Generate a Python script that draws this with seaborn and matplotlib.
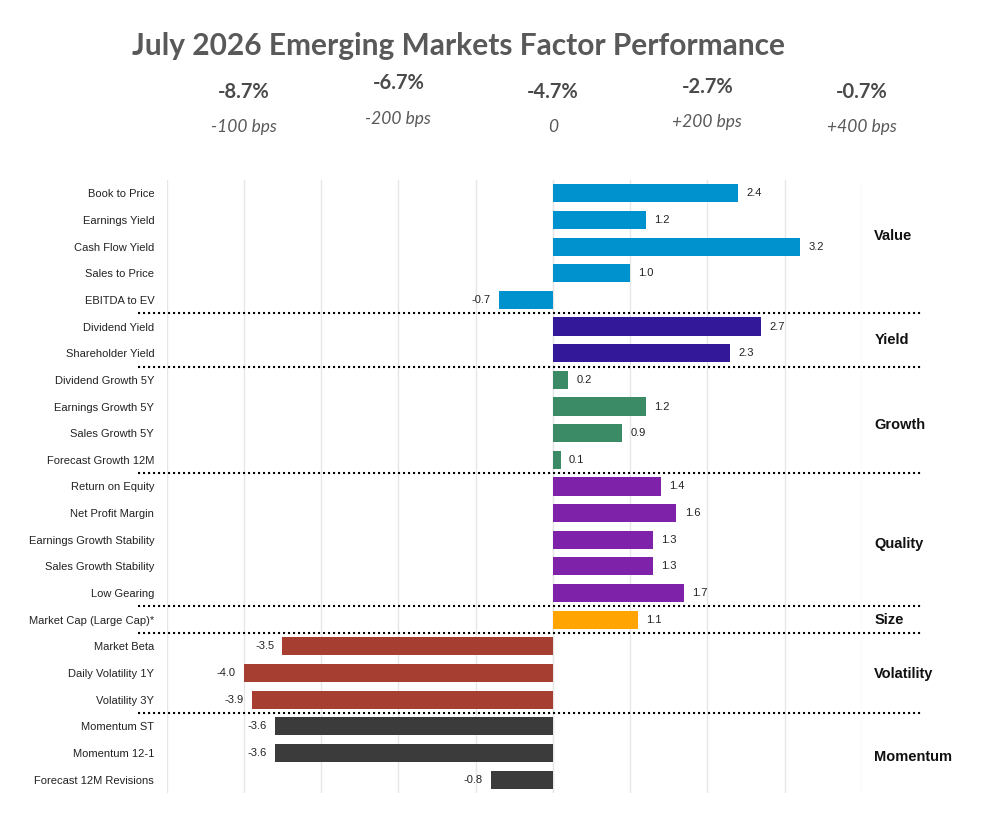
import pandas as pd
import numpy as np
import matplotlib.pyplot as plt
import matplotlib.transforms as mtransforms
import seaborn as sns

# -----------------------------
# Data
# -----------------------------
factors = [
    "Book to Price", "Earnings Yield", "Cash Flow Yield", "Sales to Price", "EBITDA to EV",
    "Dividend Yield", "Shareholder Yield",
    "Dividend Growth 5Y", "Earnings Growth 5Y", "Sales Growth 5Y", "Forecast Growth 12M",
    "Return on Equity", "Net Profit Margin", "Earnings Growth Stability",
    "Sales Growth Stability", "Low Gearing",
    "Market Cap (Large Cap)*",
    "Market Beta", "Daily Volatility 1Y", "Volatility 3Y",
    "Momentum ST", "Momentum 12-1", "Forecast 12M Revisions",
]
values = [
    2.4, 1.2, 3.2, 1.0, -0.7,
    2.7, 2.3,
    0.2, 1.2, 0.9, 0.1,
    1.4, 1.6, 1.3, 1.3, 1.7,
    1.1,
    -3.5, -4.0, -3.9,
    -3.6, -3.6, -0.8,
]
groups = ["Value", "Yield", "Growth", "Quality", "Size", "Volatility", "Momentum"]
group_sizes = [5, 2, 4, 5, 1, 3, 3]
group_colors = ["#0092CF", "#33199A", "#3B8C66", "#7F22AA", "#FFA400", "#A63E31", "#3B3B3B"]

title = "July 2026 Emerging Markets Factor Performance"
header_x = [-4, -2, 0, 2, 4]
header_pct = ["-8.7%", "-6.7%", "-4.7%", "-2.7%", "-0.7%"]
header_bps = ["-100 bps", "-200 bps", "0", "+200 bps", "+400 bps"]

df = pd.DataFrame({
    "factor": factors,
    "value": values,
    "group": np.repeat(groups, group_sizes),
})

# -----------------------------
# Plot
# -----------------------------
sns.set_style("white")
plt.rcParams["font.family"] = ["Liberation Sans", "DejaVu Sans"]

fig = plt.figure(figsize=(9.86, 8.3), dpi=100)
ax = fig.add_axes([0.169, 0.0446, 0.705, 0.7386])

sns.barplot(
    data=df, x="value", y="factor", hue="group", orient="h",
    palette=dict(zip(groups, group_colors)), dodge=False, width=0.68,
    legend=False, ax=ax, saturation=1, edgecolor="none",
)

for cont in ax.containers:
    ax.bar_label(cont, fmt="%.1f", padding=6, fontsize=8, color="#222222")

ax.set_xlim(-5, 4)
ax.set_ylim(len(factors) - 0.5, -0.5)
ax.set_xticks(range(-5, 5))
ax.set_xticklabels([])
ax.grid(axis="x", color="#E6E6E6", linewidth=1)
ax.set_axisbelow(True)
ax.axvline(0, color="#CCCCCC", linewidth=0.8, zorder=0)
ax.tick_params(axis="both", length=0)
ax.tick_params(axis="y", pad=9, labelsize=8, labelcolor="#222222")
ax.set_xlabel("")
ax.set_ylabel("")
sns.despine(ax=ax, left=True, bottom=True)

# group separators and labels
trans = mtransforms.blended_transform_factory(ax.transAxes, ax.transData)
bounds = np.cumsum(group_sizes)
starts = bounds - np.array(group_sizes)
for b in bounds[:-1]:
    ax.plot([-0.041, 1.087], [b - 0.5, b - 0.5], transform=trans, color="black",
            linestyle=(0, (1, 1.4)), linewidth=1.5, clip_on=False)
label_shift = [-0.4, 0, 0.2, 0.15, 0, 0.05, 0.15]
for g, s, n, d in zip(groups, starts, group_sizes, label_shift):
    ax.text(1.018, s + (n - 1) / 2 + d, g, transform=trans, ha="left", va="center",
            fontsize=10.5, fontweight="bold", color="#111111")

# header
fig.text(0.465, 0.945, title, ha="center", va="center", fontsize=21.5,
         fontweight="bold", color="#595959", family=["Lato", "DejaVu Sans"])
htrans = mtransforms.blended_transform_factory(ax.transData, fig.transFigure)
pct_y = [0.889, 0.9, 0.889, 0.895, 0.889]
bps_y = [0.847, 0.857, 0.847, 0.853, 0.847]
for x, p, b, py, by in zip(header_x, header_pct, header_bps, pct_y, bps_y):
    ax.text(x, py, p, transform=htrans, ha="center", va="center", fontsize=14.5,
            fontweight="bold", color="#4A4A4A", family=["Lato", "DejaVu Sans"])
    ax.text(x, by, b, transform=htrans, ha="center", va="center", fontsize=12.5,
            style="italic", color="#595959", family=["Lato", "DejaVu Sans"])

plt.savefig("out.png", dpi=100)
